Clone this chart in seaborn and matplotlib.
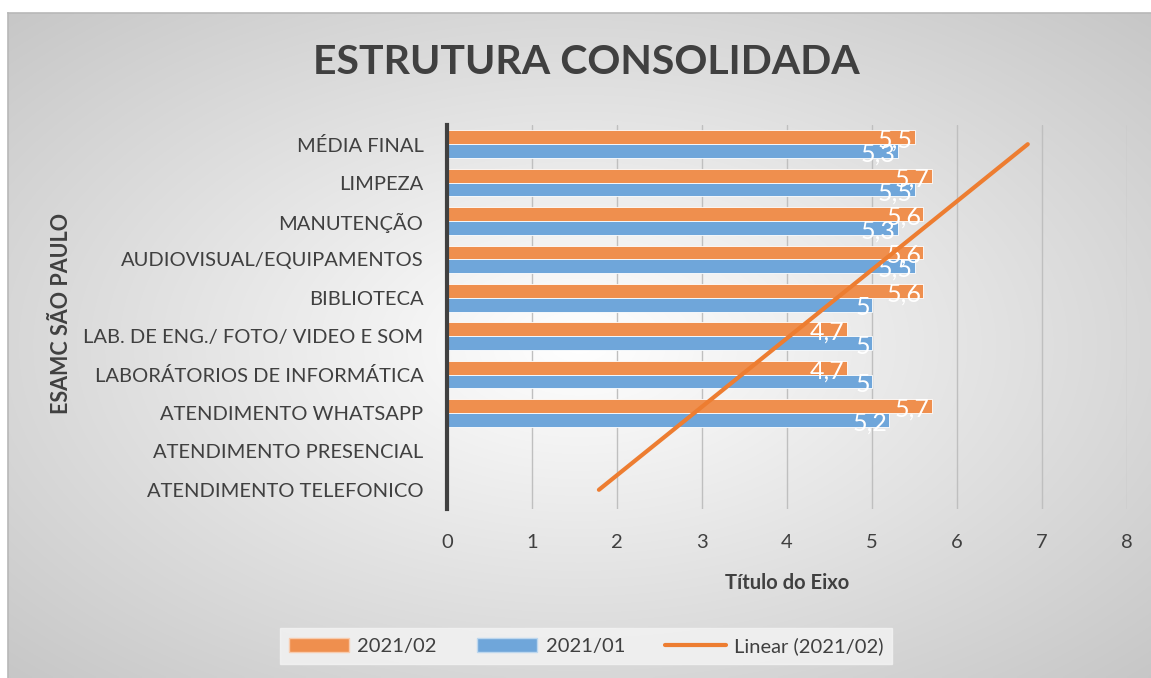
import numpy as np
import pandas as pd
import matplotlib
matplotlib.use("Agg")
import matplotlib.pyplot as plt
from matplotlib.patches import Patch
from matplotlib.lines import Line2D
import seaborn as sns

categories = [
    "MÉDIA FINAL", "LIMPEZA", "MANUTENÇÃO", "AUDIOVISUAL/EQUIPAMENTOS", "BIBLIOTECA",
    "LAB. DE ENG./ FOTO/ VIDEO E SOM", "LABORÁTORIOS DE INFORMÁTICA", "ATENDIMENTO WHATSAPP",
    "ATENDIMENTO PRESENCIAL", "ATENDIMENTO TELEFONICO",
]
series_names = ["2021/02", "2021/01"]
vals_2021_02 = [5.5, 5.7, 5.6, 5.6, 5.6, 4.7, 4.7, 5.7, np.nan, np.nan]
vals_2021_01 = [5.3, 5.5, 5.3, 5.5, 5.0, 5.0, 5.0, 5.2, np.nan, np.nan]
x_ticks = [0, 1, 2, 3, 4, 5, 6, 7, 8]

ORANGE = "#EF8F4E"
BLUE = "#6FA6DA"
TREND = "#ED7D31"
TXT = "#404040"

sns.set_theme(style="white")
plt.rcParams["font.family"] = ["Lato", "DejaVu Sans"]

rows = []
for cat, a, b in zip(categories, vals_2021_02, vals_2021_01):
    if not np.isnan(a):
        rows.append({"cat": cat, "serie": "2021/02", "val": a})
    if not np.isnan(b):
        rows.append({"cat": cat, "serie": "2021/01", "val": b})
df = pd.DataFrame(rows)

W, H = 1151, 678
fig = plt.figure(figsize=(W / 100, H / 100), dpi=100)
fig.patch.set_facecolor("white")

# chart area with radial gradient
bg = fig.add_axes([8 / W, 0, 1 - 8 / W, 1 - 13 / H], zorder=-10)
gx, gy = np.meshgrid(np.linspace(-1, 1, 400), np.linspace(-1, 1, 240))
r = np.sqrt(gx ** 2 + gy ** 2) / np.sqrt(2)
shade = 1 - 0.22 * r
bg.imshow(np.dstack([shade] * 3), extent=[0, 1, 0, 1], aspect="auto", interpolation="bilinear")
bg.set_xticks([])
bg.set_yticks([])
for s in ["top", "left"]:
    bg.spines[s].set_color("#B8B8B8")
    bg.spines[s].set_linewidth(1.2)
for s in ["right", "bottom"]:
    bg.spines[s].set_visible(False)

ax = fig.add_axes([447 / W, 1 - 509 / H, (1127 - 447) / W, (509 - 125) / H])
ax.patch.set_alpha(0)

sns.barplot(
    data=df, y="cat", x="val", hue="serie", order=categories, hue_order=series_names,
    palette=[ORANGE, BLUE], orient="h", width=0.72, errorbar=None, ax=ax, saturation=1,
    edgecolor="white", linewidth=0.6, zorder=3, legend=False,
)

# value labels inside end
for cont in ax.containers:
    for p in cont.patches:
        w = p.get_width()
        if np.isnan(w) or w == 0:
            continue
        yc = p.get_y() + p.get_height() / 2
        ax.text(w - 0.02, yc + 0.08, f"{w:g}".replace(".", ","), ha="right", va="center",
                color="white", fontsize=18, zorder=5)

# linear trendline of 2021/02 (Excel: categories counted from the bottom, blanks as 0)
n = len(categories)
xs = np.arange(1, n + 1)
ys = np.nan_to_num(np.array(vals_2021_02[::-1]))
slope, icpt = np.polyfit(xs, ys, 1)
trend = slope * xs + icpt
ax.plot(trend, n - xs, color=TREND, lw=3, solid_capstyle="round", zorder=6)

ax.set_xlim(0, 8)
ax.set_ylim(n - 0.5, -0.5)
ax.set_xticks(x_ticks)
ax.set_xticklabels([str(t) for t in x_ticks])
ax.grid(axis="x", color="#BFBFBF", lw=1, zorder=0)
ax.grid(axis="y", visible=False)
for s in ["top", "right", "bottom"]:
    ax.spines[s].set_visible(False)
ax.spines["left"].set_color("#404040")
ax.spines["left"].set_linewidth(3)
ax.spines["left"].set_zorder(7)
ax.tick_params(axis="x", length=0, pad=18, labelsize=14.5, labelcolor=TXT)
ax.tick_params(axis="y", length=0, pad=17, labelsize=14.5, labelcolor=TXT)

ax.set_xlabel("Título do Eixo", fontsize=14.5, fontweight="bold", color=TXT, labelpad=16)
ax.set_ylabel("")
fig.text(61 / W, 1 - 313 / H, "ESAMC SÃO PAULO", rotation=90, ha="center", va="center",
         fontsize=15.5, fontweight="bold", color=TXT)

fig.text(586 / W, 1 - 63 / H, "ESTRUTURA CONSOLIDADA", ha="center", va="center",
         fontsize=29.5, fontweight="bold", color=TXT)

handles = [
    Patch(facecolor=ORANGE, edgecolor="#F8CBAD"),
    Patch(facecolor=BLUE, edgecolor="#BDD7EE"),
    Line2D([0], [0], color=TREND, lw=3),
]
leg = fig.legend(handles, ["2021/02", "2021/01", "Linear (2021/02)"], ncol=3,
                 loc="center", bbox_to_anchor=(586 / W, 1 - 646 / H), frameon=True,
                 fontsize=14.5, handlelength=3.0, handleheight=0.7, columnspacing=2.0,
                 handletextpad=0.4, fancybox=False, borderpad=0.45)
leg.get_frame().set_facecolor("#F4F4F4")
leg.get_frame().set_edgecolor("#F4F4F4")
for t in leg.get_texts():
    t.set_color(TXT)

fig.savefig("out.png", dpi=100)
